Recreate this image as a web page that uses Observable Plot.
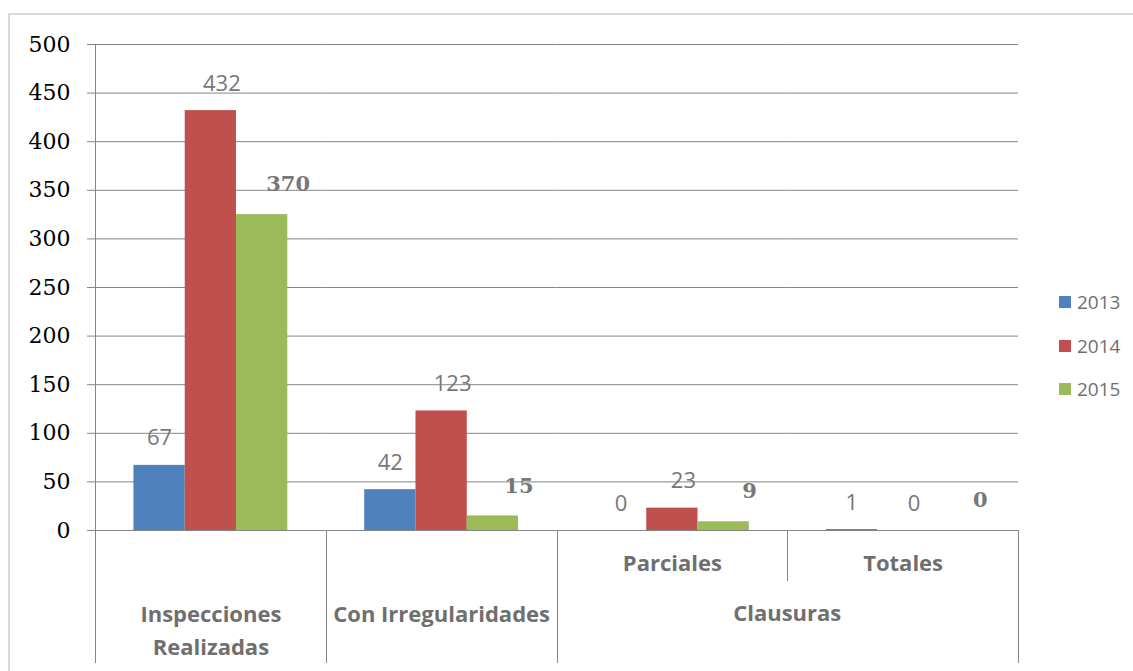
<!DOCTYPE html>
<html>
<head>
<meta charset="utf-8">
<script src="https://cdn.jsdelivr.net/npm/d3@7"></script>
<script src="https://cdn.jsdelivr.net/npm/@observablehq/plot@0.6"></script>
<style>
  html, body { margin: 0; padding: 0; background: #fff; }
  #wrap { position: relative; width: 1133px; height: 671px; overflow: hidden; }
  #frame { position: absolute; left: 8px; top: 13px; width: 1140px; height: 680px;
           border-top: 2px solid #d9d9d9; border-left: 2px solid #d9d9d9; box-sizing: border-box; }
  #chart { position: absolute; left: 0; top: 0; }
  #legend { position: absolute; left: 1059px; top: 292px; font-family: "Open Sans", sans-serif;
            font-size: 19px; color: #6f6f6f; }
  .item { display: flex; align-items: center; height: 20px; margin-bottom: 23.5px; }
  .sw { width: 12px; height: 12px; margin-right: 6px; }
</style>
</head>
<body>
<div id="wrap">
  <div id="frame"></div>
  <div id="chart"></div>
  <div id="legend"></div>
</div>
<script>
const categories = ["Inspecciones Realizadas", "Con Irregularidades", "Parciales", "Totales"];
const categoryLabels = ["Inspecciones\nRealizadas", "Con Irregularidades", "Parciales", "Totales"];
const groupLabel = "Clausuras";
const years = ["2013", "2014", "2015"];
const values2013 = [67, 42, 0, 1];
const values2014 = [432, 123, 23, 0];
const values2015 = [325, 15, 9, 0];
const labels2013 = ["67", "42", "0", "1"];
const labels2014 = ["432", "123", "23", "0"];
const labels2015 = ["370", "15", "9", "0"];
const yTicks = [0, 50, 100, 150, 200, 250, 300, 350, 400, 450, 500];
const colors = ["#4f81bd", "#c0504d", "#9bbb59"];

const seriesValues = [values2013, values2014, values2015];
const seriesLabels = [labels2013, labels2014, labels2015];
const data = categories.flatMap((c, i) => years.map((y, j) => ({
  cat: c, year: y, value: seriesValues[j][i], label: seriesLabels[j][i]
})));

const W = 1133, H = 671;
const gridColor = "#868686";
const textGray = "#6f6f6f";
const sans = "'Open Sans', sans-serif";
const serif = "'DejaVu Serif', serif";

const labelMark = (year, opts) => Plot.text(data.filter(d => d.year === year), {
  fx: "cat", x: "year", y: "value", text: "label", dy: -27,
  lineAnchor: "middle", textAnchor: "middle", ...opts
});
const catText = (idx, dy, extra = {}) => Plot.text(idx.map(i => ({ cat: categories[i], text: categoryLabels[i] })), {
  fx: "cat", text: "text", frameAnchor: "bottom", lineAnchor: "middle", dy,
  fill: textGray, fontFamily: sans, fontSize: 22, fontWeight: 700, ...extra
});

const chart = Plot.plot({
  width: W, height: H,
  marginLeft: 95, marginRight: 115, marginTop: 44, marginBottom: 141,
  style: { background: "transparent", overflow: "visible" },
  fx: { domain: categories, padding: 0, round: false, axis: null, label: null },
  x: { domain: years, paddingInner: 0, paddingOuter: 0.75, round: false, axis: null },
  y: { domain: [0, 500], axis: null },
  color: { domain: years, range: colors },
  marks: [
    Plot.gridY(yTicks, { stroke: gridColor, strokeOpacity: 1, strokeWidth: 1 }),
    Plot.axisY(yTicks, {
      tickSize: 8, tickPadding: 17, stroke: gridColor, fill: "#000",
      fontFamily: serif, fontSize: 22, label: null
    }),
    Plot.barY(data, { fx: "cat", x: "year", y: "value", fill: "year", insetLeft: 0, insetRight: 0 }),
    labelMark("2013", { dx: 0, fill: "#777", fontFamily: sans, fontSize: 22 }),
    labelMark("2014", { dx: 11, fill: "#777", fontFamily: sans, fontSize: 22 }),
    labelMark("2015", { dx: 26, dy: -30, fill: "#777", fontFamily: serif, fontSize: 21, fontWeight: "bold" }),
    catText([2, 3], 33),
    catText([0], 97.5, { lineHeight: 1.5 }),
    catText([1], 84)
  ]
});
document.getElementById("chart").appendChild(chart);

// Separators and the spanning group label, placed with the plot's own scales
const svg = d3.select(chart);
const yS = chart.scale("y");
const y0 = yS.apply(0), yTop = yS.apply(500);
let edges, bw;
try {
  const fxS = chart.scale("fx");
  bw = fxS.bandwidth;
  edges = categories.map(c => fxS.apply(c));
} catch (e) {
  bw = (W - 95 - 115) / categories.length;
  edges = categories.map((c, i) => 95 + i * bw);
}
edges.push(edges[edges.length - 1] + bw);
const bottom = H - 8;
const lines = [
  [edges[0], yTop, bottom],
  [edges[1], y0, bottom],
  [edges[2], y0, bottom],
  [edges[3], y0, y0 + 51],
  [edges[4], y0, bottom]
];
const g = svg.append("g").attr("stroke", gridColor).attr("stroke-width", 1);
lines.forEach(([x, a, b]) => g.append("line")
  .attr("x1", Math.round(x) + 0.5).attr("x2", Math.round(x) + 0.5)
  .attr("y1", a).attr("y2", b));

svg.append("text")
  .attr("x", edges[3]).attr("y", y0 + 84).attr("dy", "0.32em")
  .attr("text-anchor", "middle").attr("fill", textGray)
  .attr("font-family", sans).attr("font-size", 22).attr("font-weight", 700)
  .text(groupLabel);

// Legend
const legend = d3.select("#legend");
years.forEach((y, i) => {
  const it = legend.append("div").attr("class", "item");
  it.append("div").attr("class", "sw").style("background", colors[i]);
  it.append("span").text(y);
});
</script>
</body>
</html>
